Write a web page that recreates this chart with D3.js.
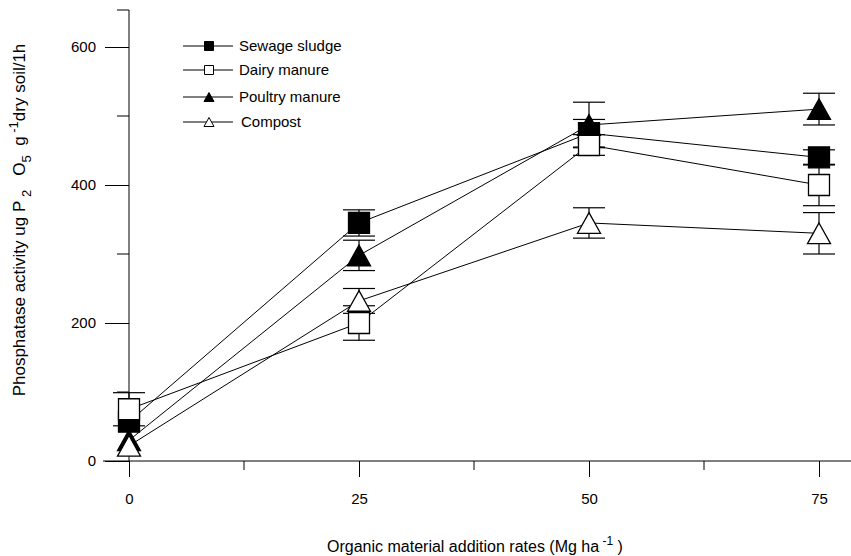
<!DOCTYPE html>
<html>
<head>
<meta charset="utf-8">
<script src="https://cdn.jsdelivr.net/npm/d3@7"></script>
<style>
  body { margin: 0; background: #fff; }
  text { font-family: "Liberation Sans", Arial, sans-serif; fill: #000; }
</style>
</head>
<body>
<div id="chart"></div>
<script>
// values
const rates = [0, 25, 50, 75];
const seriesNames = ["Sewage sludge", "Dairy manure", "Poultry manure", "Compost"];
const sewage = [57, 345, 475, 440];
const dairy = [75, 200, 458, 400];
const poultry = [30, 298, 487, 510];
const compost = [22, 232, 345, 330];
// 0 = bar hidden behind the marker
const sewageErr = [0, 19, 20, 11];
const dairyErr = [24, 25, 15, 30];
const poultryErr = [0, 22, 33, 23];
const compostErr = [0, 18, 22, 30];
const yTicks = [0, 200, 400, 600];
const xTicks = [0, 25, 50, 75];

const width = 851, height = 556;

const svg = d3.select("#chart").append("svg")
    .attr("width", width)
    .attr("height", height);

const x = d3.scaleLinear().domain([0, 75]).range([129, 819]);
const y = d3.scaleLinear().domain([0, 600]).range([461, 47]);

const series = [
    { name: seriesNames[0], vals: sewage, err: sewageErr, shape: "square", fill: "#000" },
    { name: seriesNames[1], vals: dairy, err: dairyErr, shape: "square", fill: "#fff" },
    { name: seriesNames[2], vals: poultry, err: poultryErr, shape: "triangle", fill: "#000" },
    { name: seriesNames[3], vals: compost, err: compostErr, shape: "triangle", fill: "#fff" }
];

// axes
const xAxis = svg.append("g").attr("transform", "translate(0,461)");
xAxis.append("line").attr("x1", 103).attr("x2", 851).attr("stroke", "#000");
xAxis.call(d3.axisBottom(x).tickValues(xTicks).tickSize(16).tickPadding(16))
    .call(g => g.select(".domain").remove())
    .call(g => g.selectAll("text").style("font-size", "15px").attr("font-family", null));
xAxis.selectAll(".minor").data([12.5, 37.5, 62.5]).join("line")
    .attr("x1", d => x(d)).attr("x2", d => x(d))
    .attr("y1", 0).attr("y2", 9).attr("stroke", "#000");

const yAxis = svg.append("g").attr("transform", "translate(129,0)");
yAxis.append("line").attr("y1", 10).attr("y2", 461).attr("stroke", "#000");
yAxis.call(d3.axisLeft(y).tickValues(yTicks).tickSize(24).tickPadding(9))
    .call(g => g.select(".domain").remove())
    .call(g => g.selectAll("text").style("font-size", "15px").attr("font-family", null));
yAxis.selectAll(".minor").data([100, 300, 500]).join("line")
    .attr("x1", -12).attr("x2", 0)
    .attr("y1", d => y(d)).attr("y2", d => y(d)).attr("stroke", "#000");
yAxis.append("line").attr("x1", -12).attr("x2", 0).attr("y1", 10).attr("y2", 10).attr("stroke", "#000");

// axis titles
const xt = svg.append("text").attr("x", 475).attr("y", 552)
    .attr("text-anchor", "middle").style("font-size", "16px");
xt.append("tspan").text("Organic material addition rates (Mg ha");
xt.append("tspan").attr("dy", -7).style("font-size", "12px").text(" -1");
xt.append("tspan").attr("dy", 7).text(" )");

const yt = svg.append("text").attr("transform", "translate(25,220) rotate(-90)")
    .attr("text-anchor", "middle").style("font-size", "17px");
yt.append("tspan").text("Phosphatase activity ug P");
yt.append("tspan").attr("dy", 6).style("font-size", "13px").text(" 2");
yt.append("tspan").attr("dy", -6).text("\u00a0\u00a0\u00a0O");
yt.append("tspan").attr("dy", 6).style("font-size", "13px").text("5");
yt.append("tspan").attr("dy", -6).text("\u00a0\u00a0g");
yt.append("tspan").attr("dy", -7).style("font-size", "13px").text(" -1");
yt.append("tspan").attr("dy", 7).text("dry soil/1h");

// marker path
function marker(shape, s) {
    if (shape === "square") return `M${-s / 2},${-s / 2}h${s}v${s}h${-s}Z`;
    const h = s * 0.9;
    return `M0,${-h / 2}L${s / 2},${h / 2}L${-s / 2},${h / 2}Z`;
}

const line = d3.line().x((d, i) => x(rates[i])).y(d => y(d));

const plot = svg.append("g");
series.forEach(s => {
    plot.append("path").attr("d", line(s.vals))
        .attr("fill", "none").attr("stroke", "#000").attr("stroke-width", 1);
});

// error bars
series.forEach(s => {
    const g = plot.append("g").attr("stroke", "#000").attr("stroke-width", 1.2);
    s.vals.forEach((v, i) => {
        if (!s.err[i]) return;
        const cx = x(rates[i]);
        g.append("line").attr("x1", cx).attr("x2", cx).attr("y1", y(v - s.err[i])).attr("y2", y(v + s.err[i]));
        [v - s.err[i], v + s.err[i]].forEach(e => {
            g.append("line").attr("x1", cx - 16).attr("x2", cx + 16).attr("y1", y(e)).attr("y2", y(e));
        });
    });
});

// markers
series.forEach(s => {
    plot.append("g").selectAll("path").data(s.vals).join("path")
        .attr("transform", (d, i) => `translate(${x(rates[i])},${y(d)})`)
        .attr("d", marker(s.shape, s.shape === "square" ? 21 : 23))
        .attr("fill", s.fill).attr("stroke", "#000").attr("stroke-width", 1.3);
});

// legend
const legend = svg.append("g");
const legendY = [46, 70, 97, 122];
series.forEach((s, i) => {
    const g = legend.append("g").attr("transform", `translate(0,${legendY[i]})`);
    g.append("line").attr("x1", 183).attr("x2", 233).attr("stroke", "#000");
    g.append("path").attr("transform", "translate(209,0)")
        .attr("d", marker(s.shape, s.shape === "square" ? 9 : 10))
        .attr("fill", s.fill).attr("stroke", "#000");
    g.append("text").attr("x", i === 3 ? 241 : 239).attr("y", 0).attr("dy", "0.35em")
        .style("font-size", "15px").text(s.name);
});
</script>
</body>
</html>
